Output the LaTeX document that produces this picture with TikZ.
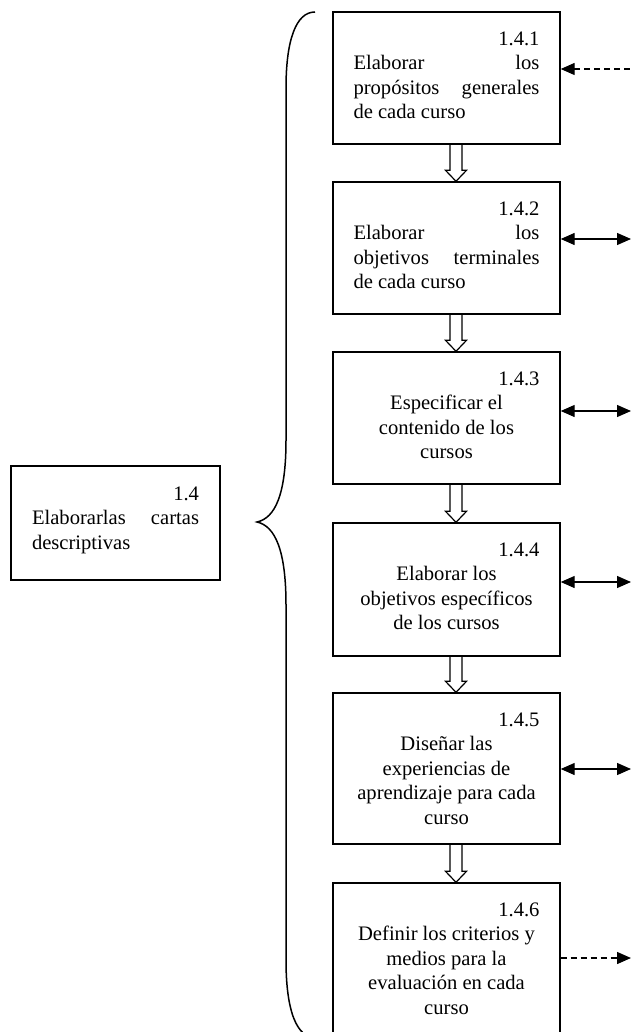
\documentclass[tikz,border=0pt]{standalone}
\usepackage{fontspec}
\setmainfont{Liberation Serif}
\usetikzlibrary{arrows.meta,calc}
\setlength{\parindent}{0pt}
\newcommand{\boxfont}{\fontsize{20.6pt}{24.5pt}\selectfont}
\begin{document}
\begin{tikzpicture}[x={(1pt,0)},y={(0,-1pt)},
  box/.style={draw,line width=1.4pt,minimum width=227pt,inner sep=0pt},
  leftbox/.style={draw,line width=1.4pt,minimum width=209pt,minimum height=114pt,inner sep=0pt},
  txt/.style={anchor=north,inner sep=0pt,text width=186pt,align=justify,font=\boxfont},
  hollow/.style={draw,line width=1.2pt,line join=miter},
  dbl/.style={line width=1.3pt,{Triangle[length=14pt,width=12pt]}-{Triangle[length=14pt,width=12pt]}},
  dashin/.style={line width=1.3pt,dash pattern=on 6pt off 4pt,{Triangle[length=14pt,width=12pt]}-},
  dashout/.style={line width=1.3pt,dash pattern=on 6pt off 4pt,-{Triangle[length=14pt,width=12pt]}},
  bracket/.style={line width=1.5pt}]
\useasboundingbox (0,0) rectangle (632,1032);
\clip (0,0) rectangle (632,1032);

% parent activity
\node[leftbox] (b0) at (115.5,523) {};
\node[txt,text width=167pt] (t0) at ($(b0.north)+(0,21)$)
  {\hfill 1.4\par Elaborarlas cartas\linebreak descriptivas};

% sub-activities
\node[box,minimum height=132pt] (b1) at (446.5,78) {};
\node[box,minimum height=132pt] (b2) at (446.5,248) {};
\node[box,minimum height=132pt] (b3) at (446.5,418) {};
\node[box,minimum height=133pt] (b4) at (446.5,589.5) {};
\node[box,minimum height=151pt] (b5) at (446.5,768.5) {};
\node[box,minimum height=151pt] (b6) at (446.5,958.5) {};

\node[txt] (t1) at ($(b1.north)+(0,20)$)
  {\hfill 1.4.1\par Elaborar los\linebreak propósitos generales\linebreak de cada curso};
\node[txt] (t2) at ($(b2.north)+(0,20)$)
  {\hfill 1.4.2\par Elaborar los\linebreak objetivos terminales\linebreak de cada curso};
\node[txt] (t3) at ($(b3.north)+(0,20)$)
  {\hfill 1.4.3\par\centering Especificar el\\ contenido de los\\ cursos\par};
\node[txt] (t4) at ($(b4.north)+(0,20)$)
  {\hfill 1.4.4\par\centering Elaborar los\\ objetivos específicos\\ de los cursos\par};
\node[txt] (t5) at ($(b5.north)+(0,20)$)
  {\hfill 1.4.5\par\centering Diseñar las\\ experiencias de\\ aprendizaje para cada\\ curso\par};
\node[txt] (t6) at ($(b6.north)+(0,20)$)
  {\hfill 1.4.6\par\centering Definir los criterios y\\ medios para la\\ evaluación en cada\\ curso\par};

% hollow arrows between consecutive boxes
\foreach \a/\b in {b1/b2,b2/b3,b3/b4,b4/b5,b5/b6}{
  \draw[hollow] ($(\a.south)+(3.5,0)$) -- ($(\b.north)+(3.5,-11)$)
    -- ($(\b.north)+(-1,-11)$) -- ($(\b.north)+(9.5,0)$)
    -- ($(\b.north)+(20,-11)$) -- ($(\b.north)+(15.5,-11)$)
    -- ($(\a.south)+(15.5,0)$);
}

% links to the right
\coordinate (r1) at (631,69);
\coordinate (r2) at (631,239);
\coordinate (r3) at (631,411);
\coordinate (r4) at (631,582);
\coordinate (r5) at (631,769);
\coordinate (r6) at (631,958);
\draw[dashin] (b1.east |- r1) -- (r1);
\draw[dbl] (b2.east |- r2) -- (r2);
\draw[dbl] (b3.east |- r3) -- (r3);
\draw[dbl] (b4.east |- r4) -- (r4);
\draw[dbl] (b5.east |- r5) -- (r5);
\draw[dashout] (b6.east |- r6) -- (r6);

% curly brace grouping the sub-activities
\draw[bracket] (315,12) .. controls (296,12) and (286,40) .. (286,88)
  -- (286,440) .. controls (286,495) and (275,518) .. (257,522)
  .. controls (275,526) and (286,550) .. (286,605)
  -- (286,960) .. controls (286,1012) and (297,1038) .. (316,1038);
\end{tikzpicture}
\end{document}
